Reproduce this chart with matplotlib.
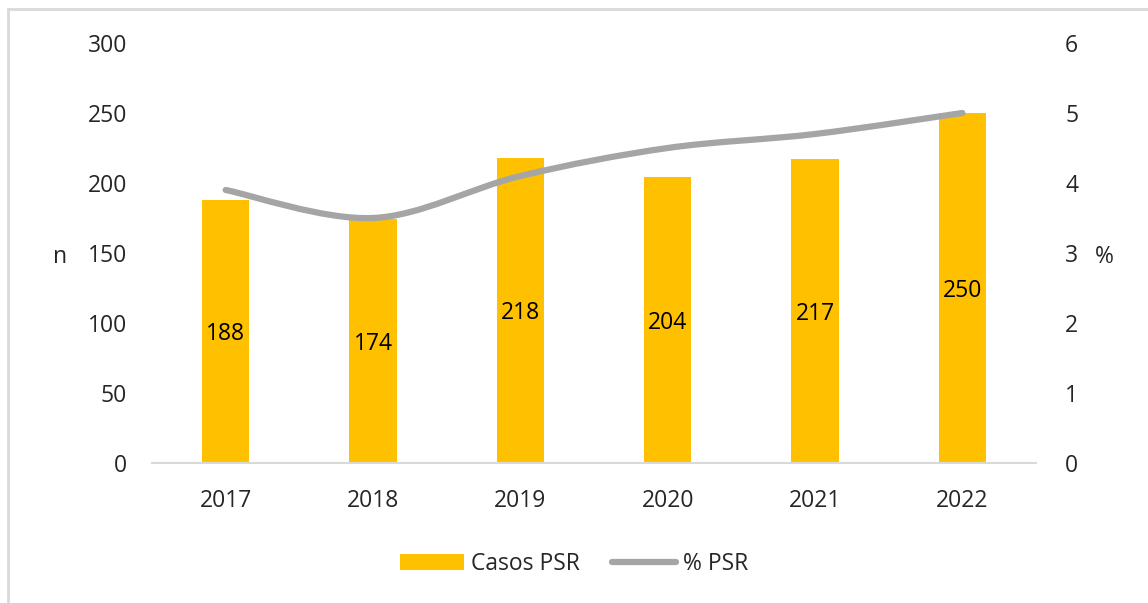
import matplotlib.pyplot as plt
from matplotlib.path import Path
from matplotlib.patches import PathPatch, Patch
from matplotlib.lines import Line2D

plt.rcParams['font.family'] = ['Open Sans', 'DejaVu Sans']

years = ['2017', '2018', '2019', '2020', '2021', '2022']
casos_psr = [188, 174, 218, 204, 217, 250]
pct_psr = [3.9, 3.5, 4.1, 4.5, 4.7, 5.0]

gold = '#FFC000'
grey = '#A5A5A5'
txt = '#262626'
fs = 16.5

fig = plt.figure(figsize=(11.48, 6.03), dpi=100)
ax = fig.add_axes([152 / 1148, 1 - 463 / 603, 884 / 1148, 420 / 603])
ax2 = ax.twinx()

x = list(range(len(years)))
ax.bar(x, casos_psr, width=0.32, color=gold, zorder=2)
for xi, v in zip(x, casos_psr):
    ax.text(xi, v / 2, str(v), ha='center', va='center_baseline', fontsize=fs, color='black')

# smooth line (Excel-style Catmull-Rom bezier)
verts = [(x[0], pct_psr[0])]
codes = [Path.MOVETO]
n = len(x)
for i in range(n - 1):
    p0 = (x[max(i - 1, 0)], pct_psr[max(i - 1, 0)])
    p1 = (x[i], pct_psr[i])
    p2 = (x[i + 1], pct_psr[i + 1])
    p3 = (x[min(i + 2, n - 1)], pct_psr[min(i + 2, n - 1)])
    c1 = (p1[0] + (p2[0] - p0[0]) / 6, p1[1] + (p2[1] - p0[1]) / 6)
    c2 = (p2[0] - (p3[0] - p1[0]) / 6, p2[1] - (p3[1] - p1[1]) / 6)
    verts += [c1, c2, p2]
    codes += [Path.CURVE4] * 3
ax2.add_patch(PathPatch(Path(verts, codes), facecolor='none', edgecolor=grey,
                        lw=4.5, capstyle='round', zorder=3))

ax.set_xlim(-0.5, 5.5)
ax.set_ylim(0, 300)
ax2.set_ylim(0, 6)
ax.set_yticks(range(0, 301, 50))
ax2.set_yticks(range(0, 7))
ax.set_xticks(x)
ax.set_xticklabels(years)

for a in (ax, ax2):
    for s in a.spines.values():
        s.set_visible(False)
    a.tick_params(length=0, labelsize=fs, colors=txt)
ax.spines['bottom'].set_visible(True)
ax.spines['bottom'].set_color('#D9D9D9')
ax.spines['bottom'].set_linewidth(1.5)
ax.tick_params(axis='y', pad=18)
ax.tick_params(axis='x', pad=19)
ax2.tick_params(axis='y', pad=21)

fig.text(60 / 1148, 1 - 257 / 603, 'n', fontsize=fs, color=txt, ha='center', va='center')
fig.text(1104 / 1148, 1 - 257 / 603, '%', fontsize=fs, color=txt, ha='center', va='center')

handles = [Patch(facecolor=gold, label='Casos PSR'),
           Line2D([0], [0], color=grey, lw=4.5, solid_capstyle='round', label='% PSR')]
fig.legend(handles=handles, loc='center', bbox_to_anchor=(0.5, 1 - 564 / 603), ncol=2,
           frameon=False, fontsize=fs, handlelength=2.8, handleheight=0.65,
           columnspacing=1.4, handletextpad=0.3, labelcolor=txt)

# outer frame: only top and left edges visible
fig.add_artist(Line2D([8 / 1148, 8 / 1148], [0, 1 - 9 / 603], transform=fig.transFigure,
                      color='#D9D9D9', lw=2))
fig.add_artist(Line2D([8 / 1148, 1], [1 - 9 / 603, 1 - 9 / 603], transform=fig.transFigure,
                      color='#D9D9D9', lw=2))

fig.savefig('out.png', dpi=100)
